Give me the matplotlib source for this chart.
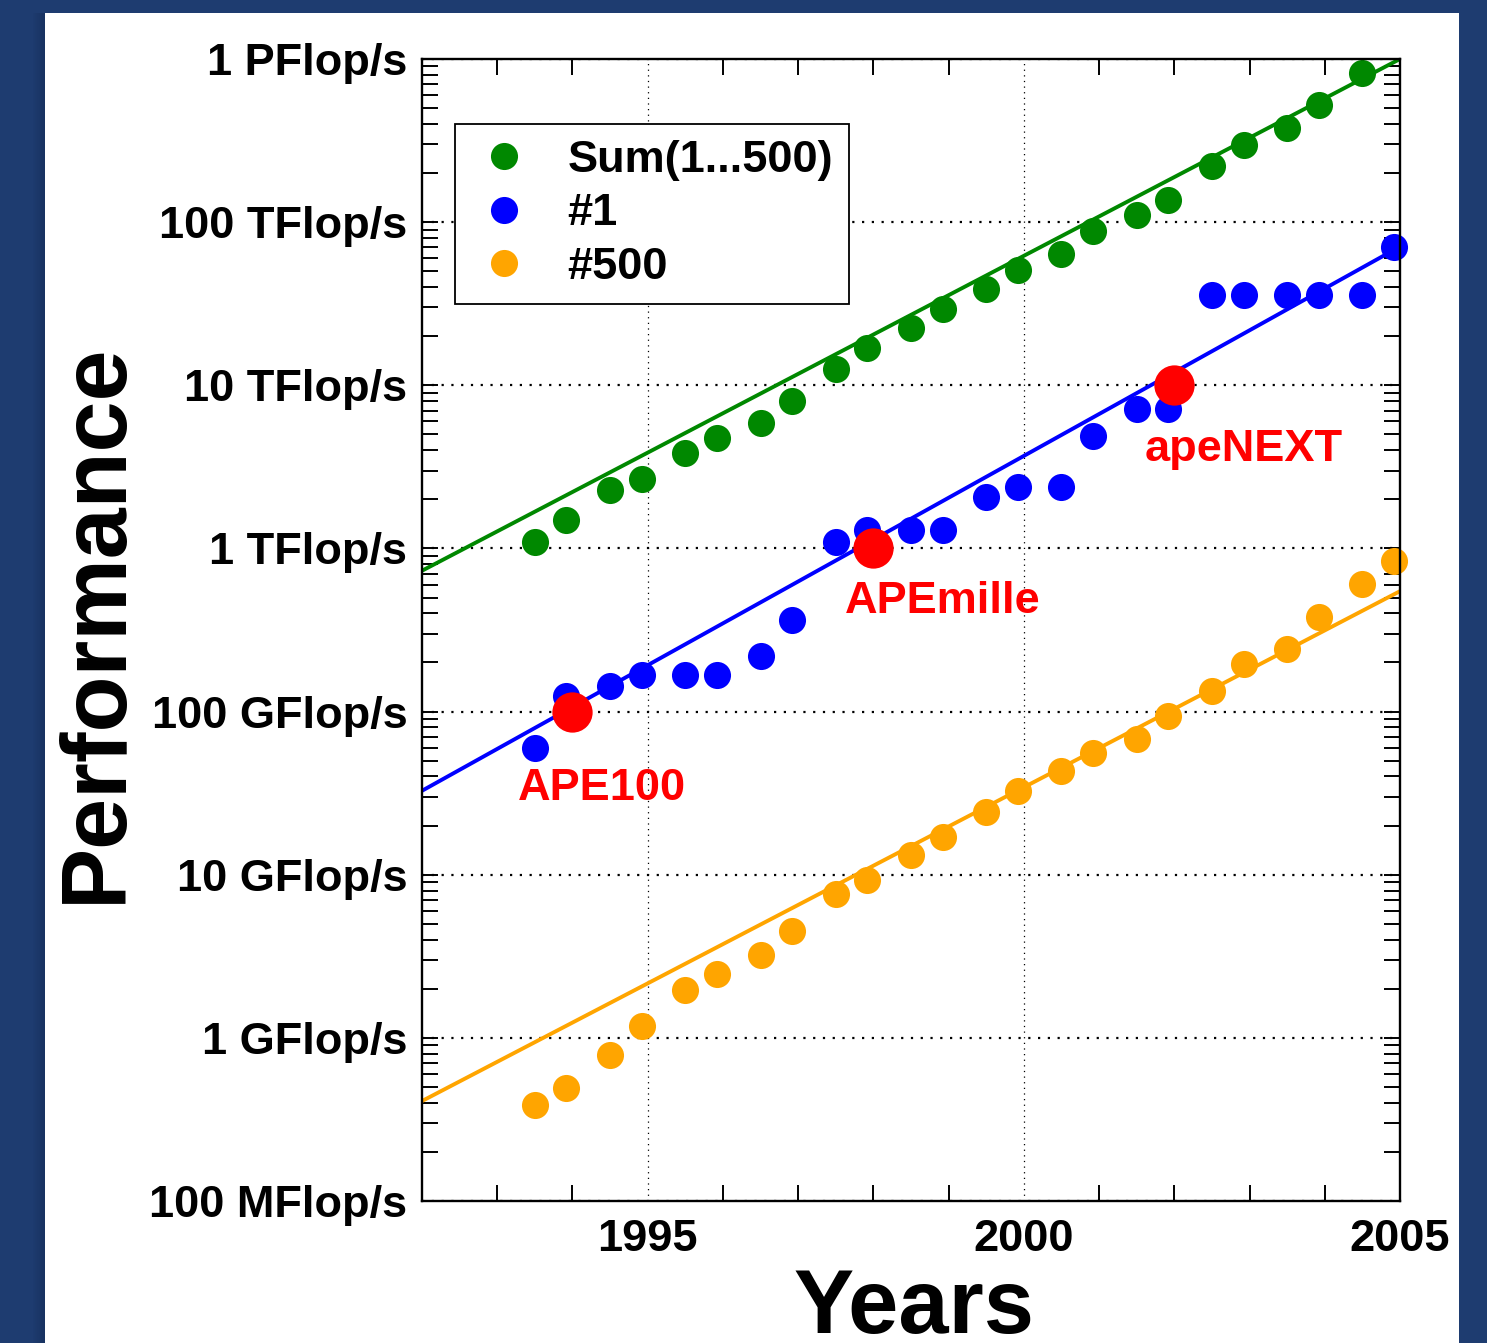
import matplotlib
matplotlib.use("Agg")
import matplotlib.pyplot as plt
from matplotlib.patches import Rectangle
from matplotlib.ticker import FixedLocator, LogLocator, NullFormatter

# ---------------- data (performance in GFlop/s) ----------------
list_dates = [1993.5, 1993.92, 1994.5, 1994.92, 1995.5, 1995.92, 1996.5, 1996.92,
              1997.5, 1997.92, 1998.5, 1998.92, 1999.5, 1999.92, 2000.5, 2000.92,
              2001.5, 2001.92, 2002.5, 2002.92, 2003.5, 2003.92, 2004.5, 2004.92]

sum_values = [1100, 1490, 2280, 2660, 3850, 4750, 5880, 8020,
              12600, 17000, 22500, 29400, 39100, 51100, 64100, 88700,
              110000, 136000, 222000, 295000, 375000, 526000, 816000]

top1_values = [59.7, 124, 143, 167, 167, 167, 218, 363,
               1090, 1300, 1300, 1300, 2070, 2380, 2380, 4890,
               7160, 7160, 35900, 35900, 35900, 35900, 35900, 70700]

top500_values = [0.39, 0.49, 0.79, 1.19, 1.97, 2.47, 3.23, 4.54,
                 7.66, 9.33, 13.3, 17.1, 24.4, 32.8, 43.5, 55.4,
                 67.5, 93.5, 133, 195, 241, 379, 604, 836]

trend_years = [1992, 2005]
sum_trend = [730, 1.0e6]
top1_trend = [32.7, 70800]
top500_trend = [0.41, 547]

ape_names = ["APE100", "APEmille", "apeNEXT"]
ape_years = [1994, 1998, 2002]
ape_values = [100, 1000, 10000]

series_labels = ["Sum(1...500)", "#1", "#500"]

x_major = [1995, 2000, 2005]
y_ticks = [0.1, 1, 10, 100, 1e3, 1e4, 1e5, 1e6]
y_tick_labels = ["100 MFlop/s", "1 GFlop/s", "10 GFlop/s", "100 GFlop/s",
                 "1 TFlop/s", "10 TFlop/s", "100 TFlop/s", "1 PFlop/s"]

# ---------------- style ----------------
FONT = ["Liberation Sans", "DejaVu Sans"]
plt.rcParams["font.family"] = FONT
plt.rcParams["font.weight"] = "bold"

GREEN = "#008800"
BLUE = "#0000ff"
ORANGE = "#ffa500"
RED = "#ff0000"
BG = "#1e3c70"

W, H = 1487, 1343
fig = plt.figure(figsize=(W / 100, H / 100), dpi=100)
fig.patch.set_facecolor(BG)
# soft shadow on the left of the white panel
for i in range(12):
    fig.patches.append(Rectangle(((45 - 12 + i) / W, 0), 1 / W, (H - 13) / H,
                                 transform=fig.transFigure, facecolor="#0f2248",
                                 alpha=0.04 + 0.03 * i, edgecolor="none", zorder=-11))
fig.patches.append(Rectangle((45 / W, 0), (1459 - 45) / W, (H - 13) / H,
                             transform=fig.transFigure, facecolor="white",
                             edgecolor="none", zorder=-10))

L, R, T, B = 422, 1400, 59, 1201
ax = fig.add_axes([L / W, 1 - B / H, (R - L) / W, (B - T) / H])
ax.set_zorder(1)
ax.set_facecolor("white")
ax.set_yscale("log")
ax.set_xlim(1992, 2005)
ax.set_ylim(0.1, 1e6)

ms = 19.5
lw = 2.8
# trend lines
ax.plot(trend_years, sum_trend, color=GREEN, lw=lw, zorder=2)
ax.plot(trend_years, top1_trend, color=BLUE, lw=lw, zorder=2)
ax.plot(trend_years, top500_trend, color=ORANGE, lw=lw, zorder=2)

# data points
h1, = ax.plot(list_dates[:len(sum_values)], sum_values, "o", color=GREEN,
              ms=ms, mec="none", zorder=2.2, clip_on=False, label=series_labels[0])
h2, = ax.plot(list_dates, top1_values, "o", color=BLUE,
              ms=ms, mec="none", zorder=2.2, clip_on=False, label=series_labels[1])
h3, = ax.plot(list_dates, top500_values, "o", color=ORANGE,
              ms=ms, mec="none", zorder=2.2, clip_on=False, label=series_labels[2])

# APE machines
ax.plot(ape_years, ape_values, "o", color=RED, ms=29, mec="none",
        zorder=2.4, clip_on=False)
ape_offsets = [(-55, -88), (-29, -65), (-30, -76)]
for name, xv, yv, off in zip(ape_names, ape_years, ape_values, ape_offsets):
    ax.annotate(name, (xv, yv), xytext=(off[0] * 0.72, off[1] * 0.72),
                textcoords="offset points", ha="left", va="baseline",
                color=RED, fontsize=32.5, fontweight="bold", zorder=5)

# grid (drawn below the markers)
for v in y_ticks:
    ax.axhline(v, color="black", lw=1.6, ls=(0, (1, 3.4)), zorder=1)
for v in x_major[:-1]:
    ax.axvline(v, color="black", lw=0.9, ls=(0, (1, 3.5)), zorder=1)

# ticks
ax.xaxis.set_major_locator(FixedLocator(x_major))
ax.xaxis.set_minor_locator(FixedLocator([y for y in range(1992, 2006) if y not in x_major]))
ax.set_xticklabels([str(v) for v in x_major])
ax.yaxis.set_major_locator(FixedLocator(y_ticks))
ax.set_yticklabels(y_tick_labels)
ax.yaxis.set_minor_locator(LogLocator(base=10, subs=range(2, 10), numticks=20))
ax.yaxis.set_minor_formatter(NullFormatter())

ax.tick_params(axis="x", which="major", direction="in", length=0, top=True,
               labelsize=32.5, pad=13)
ax.tick_params(axis="x", which="minor", direction="in", length=11.5, width=1.4, top=True)
ax.tick_params(axis="y", which="both", direction="in", length=11.5, width=1.4,
               right=True, labelsize=32.5, pad=10.5)
for lab in ax.get_xticklabels() + ax.get_yticklabels():
    lab.set_fontweight("bold")
for sp in ax.spines.values():
    sp.set_linewidth(1.7)

# legend
leg = ax.legend(handles=[h1, h2, h3], loc="upper left",
                bbox_to_anchor=(455 / W, 1 - 124 / H), bbox_transform=fig.transFigure,
                borderaxespad=0, frameon=True, fancybox=False, shadow=False,
                prop={"family": FONT, "weight": "bold", "size": 32.5},
                handlelength=1.45, handletextpad=0.68, borderpad=0.36,
                labelspacing=0.27, framealpha=1)
leg.get_frame().set_edgecolor("black")
leg.get_frame().set_linewidth(1.3)
leg.set_zorder(6)

# axis titles
fig.text(914 / W, 1 - 1333 / H, "Years", ha="center", va="baseline",
         fontsize=65, fontweight="bold")
fig.text(121 / W, 1 - 623 / H, "Performance", rotation=90, rotation_mode="anchor",
         ha="center", va="baseline", fontsize=66, fontweight="bold")

fig.savefig("out.png", dpi=100, facecolor=fig.get_facecolor())
